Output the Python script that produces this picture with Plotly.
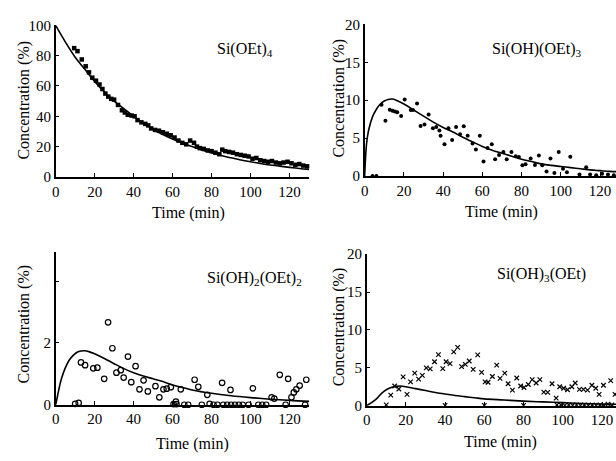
import plotly.graph_objects as go

W, H = 616, 461
FONT = "Liberation Serif"

# ---------------- data ----------------
# Si(OEt)4
t1_pts = [9.5, 11.2, 13.4, 15.4, 17.1, 18.8, 20.7, 22.5, 24, 25.5, 27, 28.5, 30, 32, 34, 35.5, 37, 39, 40.5,
          42, 44, 46, 47.5, 49, 51, 53, 55, 57, 59, 61, 63, 65, 67, 69, 71, 72.5, 74, 76, 78, 80, 82, 84,
          85.5, 87, 89, 91, 93, 95, 97, 99, 101, 103, 105, 107, 109, 111, 113, 115, 117, 119, 121, 123,
          125, 127, 129]
c1_pts = [85, 83, 77.5, 73, 69, 65.5, 63.5, 61, 58, 55, 53, 51.5, 51, 47.5, 44, 42.5, 41, 40.5, 40,
          37.5, 36, 35, 34, 32, 31, 30.5, 29.5, 28.5, 27.5, 26, 24, 22.5, 21.5, 24, 22.5, 20, 19, 18.5, 17.5,
          17, 16, 15, 18, 17, 16.5, 16, 15, 14.5, 14, 13.5, 12, 12.5, 11, 10.5, 10, 10.5, 9.5, 9, 9.5, 10,
          9, 8, 8.5, 7.5, 7]
t1_fit = [0, 5, 10, 15, 20, 25, 30, 35, 40, 45, 50, 55, 60, 65, 70, 75, 80, 85, 90, 95, 100, 105, 110,
          115, 120, 125, 130]
c1_fit = [100, 89, 79, 71, 63, 56, 50, 45, 40, 35.5, 31.5, 28, 25, 22.5, 20, 17.8, 15.9, 14.1, 12.6,
          11.2, 10, 8.9, 7.9, 7.1, 6.3, 5.6, 5.0]

# Si(OH)(OEt)3
t2_pts = [4, 6, 8.6, 10.6, 12.8, 14.2, 15.4, 16.6, 18.6, 20.4, 23.5, 24.6, 26.7, 28.5, 30.5, 32.6, 34.8,
          36.5, 38.1, 38.7, 40.7, 42.7, 44.6, 46.6, 48.6, 50.5, 52.5, 55, 56.7, 58.7, 60.6, 62.6, 64.8,
          66.5, 68.5, 70.7, 72.4, 74.8, 77, 78.6, 80.4, 82, 84.6, 86.8, 88.8, 90.5, 92.7, 94.7, 96.7,
          98.9, 101.1, 103.1, 104.8, 109.5, 112.9, 114.9, 118, 121, 124, 127]
c2_pts = [0, 0, 9.4, 7.3, 8.75, 8.6, 8.5, 8.4, 7.9, 10.1, 8.7, 8.7, 9.55, 6.6, 6.8, 8.1, 6.3, 6.45, 6.0,
          5.3, 4.2, 6.3, 4.75, 6.45, 5.5, 6.55, 5.3, 4.3, 3.5, 5.3, 1.9, 3.7, 4.2, 2.2, 2.75, 3.15, 2.2,
          3.15, 2.6, 2.5, 1.4, 1.55, 2.3, 1.45, 2.7, 1.4, 0.6, 2.3, 0.4, 3.15, 0.95, 0.5, 2.55, 0.2, 1.15,
          0.2, 0.1, 0.3, 0.2, 0.1]
t2_fit = [0, 1, 2, 4, 6, 8, 10, 12, 14, 16, 20, 25, 30, 35, 40, 45, 50, 55, 60, 65, 70, 75, 80, 85, 90,
          95, 100, 105, 110, 115, 120, 125, 130]
c2_fit = [0, 4.3, 6.0, 7.8, 8.8, 9.5, 9.9, 10.1, 10.15, 10.0, 9.5, 8.7, 7.9, 7.1, 6.4, 5.8, 5.1, 4.5, 3.9,
          3.4, 3.0, 2.6, 2.2, 1.9, 1.6, 1.4, 1.25, 1.1, 0.95, 0.8, 0.7, 0.6, 0.55]

# Si(OH)2(OEt)2
t3_pts = [10, 11.8, 13, 15.1, 19.3, 21.4, 24.9, 26.9, 29.1, 31.2, 33.4, 34.9, 37.1, 38.8, 41, 43, 45.1,
          47.3, 51.2, 53.2, 55.3, 57, 59.1, 61.7, 64.2, 71.3, 73.2, 77.8, 85.4, 89.7, 101.2, 110.8, 112.2,
          115, 119.3, 121, 122.2, 123.5, 125.2, 128.6,
          60.5, 62, 66, 68, 75, 79, 81, 83, 86, 88, 90, 92, 94, 96, 99, 104, 106, 108, 118, 128]
c3_pts = [0.03, 0.06, 1.37, 1.28, 1.18, 1.2, 0.84, 2.67, 1.83, 1.04, 1.12, 0.88, 1.56, 0.73, 1.25, 0.5,
          0.79, 0.43, 0.6, 0.24, 0.5, 0.52, 0.57, 0.1, 0.5, 0.81, 0.58, 0.32, 0.71, 0.48, 0.53, 0.24, 0.2,
          0.97, 0.84, 0.24, 0.4, 0.5, 0.62, 0.81,
          0.02, 0.02, 0, 0, 0, 0.03, 0, 0, 0, 0, 0, 0, 0, 0, 0, 0, 0, 0, 0, 0]
t3_fit = [0, 1, 2, 3, 5, 7, 9, 11, 13, 15, 17, 20, 25, 30, 35, 40, 45, 50, 55, 60, 65, 70, 80, 90, 100,
          110, 120, 130]
c3_fit = [0, 0.3, 0.6, 0.85, 1.2, 1.45, 1.6, 1.7, 1.74, 1.75, 1.72, 1.65, 1.5, 1.33, 1.17, 1.04, 0.93,
          0.84, 0.75, 0.64, 0.56, 0.48, 0.37, 0.29, 0.23, 0.18, 0.14, 0.11]

# Si(OH)3(OEt)
t4_pts = [12.3, 14.3, 16.4, 18.6, 20.6, 22.4, 24.5, 26.5, 28.4, 30.4, 32.4, 34.6, 36.6, 38.8, 40.5, 42.5,
          44.4, 46.4, 48.4, 50.3, 52.3, 54.3, 56.6, 58.6, 60.4, 61.9, 64.1, 66.3, 68, 70.4, 72.1, 74.3,
          76.5, 78.5, 80.2, 82.4, 84.4, 86.4, 88.3, 90.3, 92.3, 94.5, 96.6, 98.4, 100.4, 102.4, 104.6,
          106.3, 108.5, 110.5, 112.6, 114.8, 116.8, 118.5, 120.7, 124.4, 126.6,
          10, 40, 60, 80, 97, 99, 101, 103, 105, 107, 109, 111, 113, 115, 117, 119, 121, 123, 125]
c4_pts = [1.4, 2.6, 2.2, 3.8, 1.5, 3.15, 4.3, 3.5, 4.0, 5.0, 4.85, 5.8, 6.75, 4.9, 5.8, 5.55, 7.1, 7.7,
          5.15, 5.45, 5.9, 4.8, 6.7, 4.4, 3.15, 3.1, 3.85, 5.35, 3.6, 4.3, 2.9, 2.05, 3.65, 2.6, 2.4, 2.8,
          3.45, 3.0, 3.45, 1.8, 1.75, 2.9, 1.0, 2.5, 2.3, 2.1, 2.5, 3.0, 2.15, 2.15, 2.05, 2.7, 2.3, 1.5,
          2.7, 3.3, 1.5,
          0.1, 0.05, 0.05, 0.05, 0.1, 0.1, 0.05, 0.1, 0.05, 0.1, 0.05, 0.1, 0.05, 0.1, 0.05, 0.1, 0.05,
          0.2, 0.1]
t4_fit = [0, 2.5, 5, 7.5, 10, 12.5, 15, 17.5, 20, 25, 30, 35, 40, 45, 50, 55, 60, 70, 80, 90, 100, 110,
          120, 130]
c4_fit = [0, 0.4, 0.9, 1.6, 2.1, 2.4, 2.55, 2.6, 2.5, 2.25, 2.0, 1.75, 1.55, 1.35, 1.2, 1.05, 0.9, 0.75,
          0.6, 0.5, 0.4, 0.3, 0.22, 0.18]

labels = ["Si(OEt)<sub>4</sub>", "Si(OH)(OEt)<sub>3</sub>",
          "Si(OH)<sub>2</sub>(OEt)<sub>2</sub>", "Si(OH)<sub>3</sub>(OEt)"]
y_ticks = [[0, 20, 40, 60, 80, 100], [0, 5, 10, 15, 20], [0, 2], [0, 5, 10, 15, 20]]
y_minor = [None, None, [4], None]   # unlabeled tick marks
x_ticks = [0, 20, 40, 60, 80, 100, 120]

# ---------------- layout helpers (pixel geometry) ----------------
def px(x):
    return x / W

def py(y):
    return 1 - y / H

# (x_left_px, x_right_px, y_bottom_px, y_top_px, xmax, ymax)
panels = [
    (52, 307, 175, 18, 130, 100),
    (363, 616, 174, 17, 128.1, 20),
    (52, 307, 411, 253, 130, 4.94),
    (365, 616, 412, 255, 127.1, 20),
]

fig = go.Figure()

series = [
    (t1_pts, c1_pts, t1_fit, c1_fit, dict(symbol="square", size=4.5, color="black")),
    (t2_pts, c2_pts, t2_fit, c2_fit, dict(symbol="circle", size=4, color="black")),
    (t3_pts, c3_pts, t3_fit, c3_fit, dict(symbol="circle-open", size=5.5, color="black",
                                          line=dict(width=1.2, color="black"))),
    (t4_pts, c4_pts, t4_fit, c4_fit, dict(symbol="x-thin-open", size=4.5, color="black",
                                          line=dict(width=1.2, color="black"))),
]

for i, (tp, cp, tf, cf, mk) in enumerate(series):
    n = "" if i == 0 else str(i + 1)
    fig.add_trace(go.Scatter(x=tf, y=cf, mode="lines", line=dict(color="black", width=1.6, shape="spline"),
                             xaxis="x" + n, yaxis="y" + n, showlegend=False, cliponaxis=True))
    fig.add_trace(go.Scatter(x=tp, y=cp, mode="markers", marker=mk,
                             xaxis="x" + n, yaxis="y" + n, showlegend=False, cliponaxis=False))

axis_font = dict(family=FONT, size=15, color="black")
for i, (xl, xr, yb, yt, xmax, ymax) in enumerate(panels):
    n = "" if i == 0 else str(i + 1)
    yax = dict(domain=[py(yb), py(yt)], range=[0, ymax], anchor="x" + n,
               showline=True, linecolor="black", linewidth=1.5, showgrid=False, zeroline=False,
               ticks="inside", ticklen=4, tickcolor="black", tickwidth=1.2,
               tickvals=y_ticks[i], tickfont=axis_font)
    if y_minor[i]:
        yax["minor"] = dict(tickmode="array", tickvals=y_minor[i], ticks="inside", ticklen=4,
                            tickcolor="black", tickwidth=1.2, showgrid=False)
    fig.update_layout(**{
        "xaxis" + n: dict(domain=[px(xl), min(1, px(xr))], range=[0, xmax], anchor="y" + n,
                          showline=True, linecolor="black", linewidth=1.5, showgrid=False, zeroline=False,
                          ticks="inside", ticklen=4, tickcolor="black", tickwidth=1.2,
                          tickvals=x_ticks, tickfont=axis_font),
        "yaxis" + n: yax,
    })

ann = []
title_font = dict(family=FONT, size=16, color="black")
# axis titles (pixel positions)
for (x, y) in [(20, 95), (337, 93), (20, 327), (337, 330)]:
    ann.append(dict(x=px(x), y=py(y), xref="paper", yref="paper", text="Concentration (%)",
                    textangle=-90, showarrow=False, font=title_font, xanchor="center", yanchor="middle"))
for (x, y) in [(186, 212), (501, 211), (190, 452), (500, 450)]:
    ann.append(dict(x=px(x), y=py(y), xref="paper", yref="paper", text="Time (min)",
                    showarrow=False, font=title_font, xanchor="center", yanchor="middle"))
for lab, (x, y) in zip(labels, [(243, 43), (536, 43), (252, 280), (541, 276)]):
    ann.append(dict(x=px(x), y=py(y), xref="paper", yref="paper", text=lab,
                    showarrow=False, font=title_font, xanchor="center", yanchor="middle"))

fig.update_layout(width=W, height=H, margin=dict(l=0, r=0, t=0, b=0),
                  paper_bgcolor="white", plot_bgcolor="white", annotations=ann,
                  font=dict(family=FONT, color="black"))

fig.write_html("out.html")
